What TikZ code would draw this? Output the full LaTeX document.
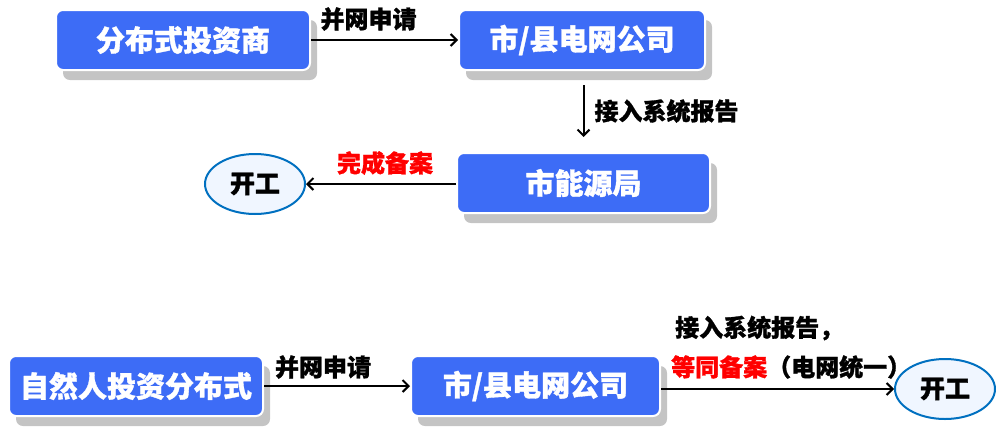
\documentclass[tikz,border=0pt]{standalone}
\usepackage{fontspec}
\setmainfont{Noto Sans CJK SC}[BoldFeatures={FakeBold=1.2}]
\usetikzlibrary{positioning,shapes.geometric,shadows,arrows.meta}

\definecolor{boxblue}{RGB}{61,108,246}
\definecolor{ringblue}{RGB}{0,112,192}
\definecolor{ringfill}{RGB}{240,246,255}

\tikzset{
    unit/.style={rectangle, rounded corners=7pt, fill=boxblue, draw=white, line width=2pt,
        text=white, font=\bfseries\fontsize{29}{30}\selectfont, inner sep=2pt,
        minimum width=254pt, minimum height=60pt,
        drop shadow={shadow xshift=7pt, shadow yshift=-10pt, fill=black!23, opacity=1}},
    work/.style={ellipse, draw=ringblue, fill=ringfill, line width=2pt, inner sep=0pt,
        minimum width=100pt, minimum height=60pt, font=\bfseries\fontsize{25}{26}\selectfont},
    flow/.style={-{Straight Barb[length=6pt,width=12pt]}, line width=2pt},
    tag/.style={font=\bfseries\fontsize{24}{25}\selectfont, inner sep=0pt}
}

\begin{document}
\begin{tikzpicture}[x=1pt,y=-1pt]
                    \useasboundingbox (0,0) rectangle (996,432);

                    % upper chain
                    \node[unit] (investor) at (183,40) {分布式投资商};
                    \node[unit, minimum width=246pt, right=147pt of investor] (grid) {市/县电网公司};
                    \node[unit, minimum width=253pt] (energy) at (583.5,183) {市能源局};
                    \node[work] (begin) at (255,184) {开工};

                    \draw[flow] (investor) -- (grid)
                        node[tag, midway, xshift=-16pt, yshift=21pt] (apply) {并网申请};
                    \draw[flow] ([yshift=-14pt]grid.south -| energy.north) -- ([yshift=15pt]energy.north)
                        node[tag, midway, anchor=west, xshift=10pt] (report) {接入系统报告};
                    \draw[flow] (energy.west |- begin.east) -- (begin.east)
                        node[tag, midway, text=red, xshift=4pt, yshift=21pt] (filed) {完成备案};

                    % lower chain
                    \node[unit] (person) at (136,386) {自然人投资分布式};
                    \node[unit, minimum width=249pt, right=146pt of person] (grid2) {市/县电网公司};
                    \node[work] (finish) at (945,389) {开工};

                    \draw[flow] (person) -- (grid2)
                        node[tag, midway, xshift=-14pt, yshift=19pt] (apply2) {并网申请};
                    \draw[flow] (grid2.east |- finish.west) -- (finish.west);
                    \node[tag, anchor=west] (report2) at (675,328) {接入系统报告，};
                    \node[tag, anchor=west] (same) at (671,367) {\textcolor{red}{等同备案}（电网统一）};
                \end{tikzpicture}
\end{document}
